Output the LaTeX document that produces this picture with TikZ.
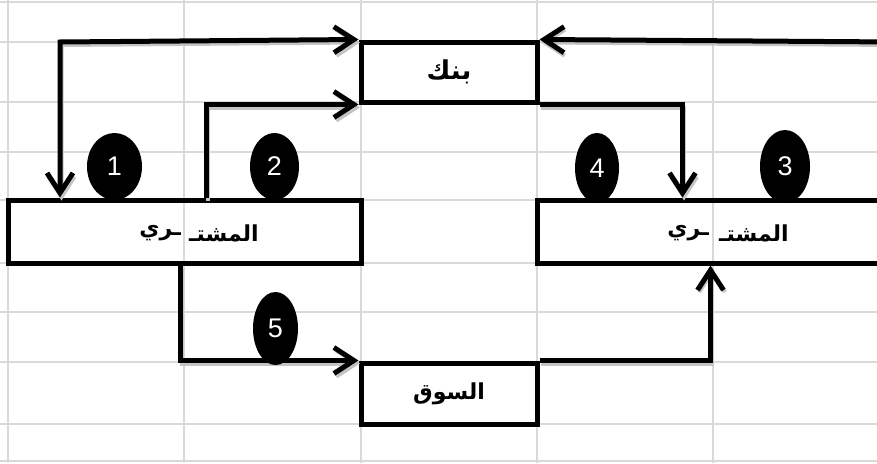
\documentclass[tikz,border=0pt]{standalone}
\usepackage{fontspec}
\setmainfont{Liberation Sans}
\newfontfamily\arabicfont[Script=Arabic]{DejaVu Sans}
\TeXXeTstate=1
\usetikzlibrary{arrows.meta,shapes.geometric,calc}
\definecolor{gridgray}{HTML}{D9D9D9}
\definecolor{shadowgray}{HTML}{C4C4C4}
\begin{document}
\begin{tikzpicture}[x=1pt,y=-1pt,
  gridline/.style={draw=gridgray, line width=2pt},
  boxnode/.style={draw=black, line width=5pt, inner sep=0pt, rectangle,
    font=\arabicfont\bfseries\fontsize{22}{24}\selectfont},
  lbl/.style={inner sep=0pt, font=\arabicfont\bfseries\fontsize{22}{24}\selectfont},
  num/.style={ellipse, fill=black, inner sep=0pt, text=white,
    font=\fontsize{27}{30}\selectfont},
  arr/.style={line width=5pt, -{Straight Barb[length=20pt,width=26pt]},
    preaction={draw=shadowgray, line width=4pt, transform canvas={shift={(1.5,3)}}}},
  arrboth/.style={line width=5pt, {Straight Barb[length=20pt,width=26pt]}-{Straight Barb[length=20pt,width=26pt]},
    preaction={draw=shadowgray, line width=4pt, transform canvas={shift={(1.5,3)}}}},
]
\useasboundingbox (0,0) rectangle (877,463);
\clip (0,0) rectangle (877,463);
\fill[white] (0,0) rectangle (877,463);
% spreadsheet grid
\foreach \gx in {8,184,361,537,713} \draw[gridline] (\gx,0) -- (\gx,463);
\foreach \gy in {2,42,102,152,200,263,312,362,424,461} \draw[gridline] (0,\gy) -- (877,\gy);

% boxes
\node[boxnode, minimum width=176pt, minimum height=60pt,
  font=\arabicfont\bfseries\fontsize{26}{28}\selectfont] (bank) at (449,72) {\beginR بنك\endR};
\node[boxnode, minimum width=353pt, minimum height=63pt] (buyerL) at (184.5,231.5) {};
\node[boxnode, minimum width=353pt, minimum height=63pt] (buyerR) at (713.5,231.5) {};
\node[boxnode, minimum width=176pt, minimum height=61pt] (souq) at (449,393.5) {\beginR السوق\endR};

\node[lbl, anchor=east] (bLa) at (181,233) {\beginR ـري\endR};
\node[lbl, anchor=west] (bLb) at (189,233) {\beginR المشتـ\endR};
\node[lbl, anchor=east] (bRa) at (709,233) {\beginR ـري\endR};
\node[lbl, anchor=west] (bRb) at (719,233) {\beginR المشتـ\endR};

% connectors
\coordinate (rin) at (895,42);
\coordinate (c1) at (60,42);
\draw[arr] (rin) -- (bank.north east);
\draw[arrboth] (bank.north west) -- (c1) -- (c1 |- buyerL.north);
\draw[arr] ($(buyerL.north west)+(201,0)$) |- (bank.south west);
\draw[arr] (bank.south east) -| ($(buyerR.north west)+(148,0)$);
\draw[arr] ($(buyerL.south west)+(175,0)$) |- (souq.north west);
\draw[arr] (souq.north east) -| ($(buyerR.south west)+(176,0)$);

% number badges
\node[num, minimum width=55pt, minimum height=67pt] (n1) at (114.5,166.5) {\raisebox{-6pt}{1}};
\node[num, minimum width=49pt, minimum height=67pt] (n2) at (274.5,166.5) {\raisebox{-6pt}{2}};
\node[num, minimum width=50pt, minimum height=73pt] (n3) at (785,166.5) {\raisebox{-6pt}{3}};
\node[num, minimum width=44pt, minimum height=70pt] (n4) at (597,168) {\raisebox{-6pt}{4}};
\node[num, minimum width=45pt, minimum height=73pt] (n5) at (275.5,328.5) {\raisebox{-6pt}{5}};
\end{tikzpicture}
\end{document}
